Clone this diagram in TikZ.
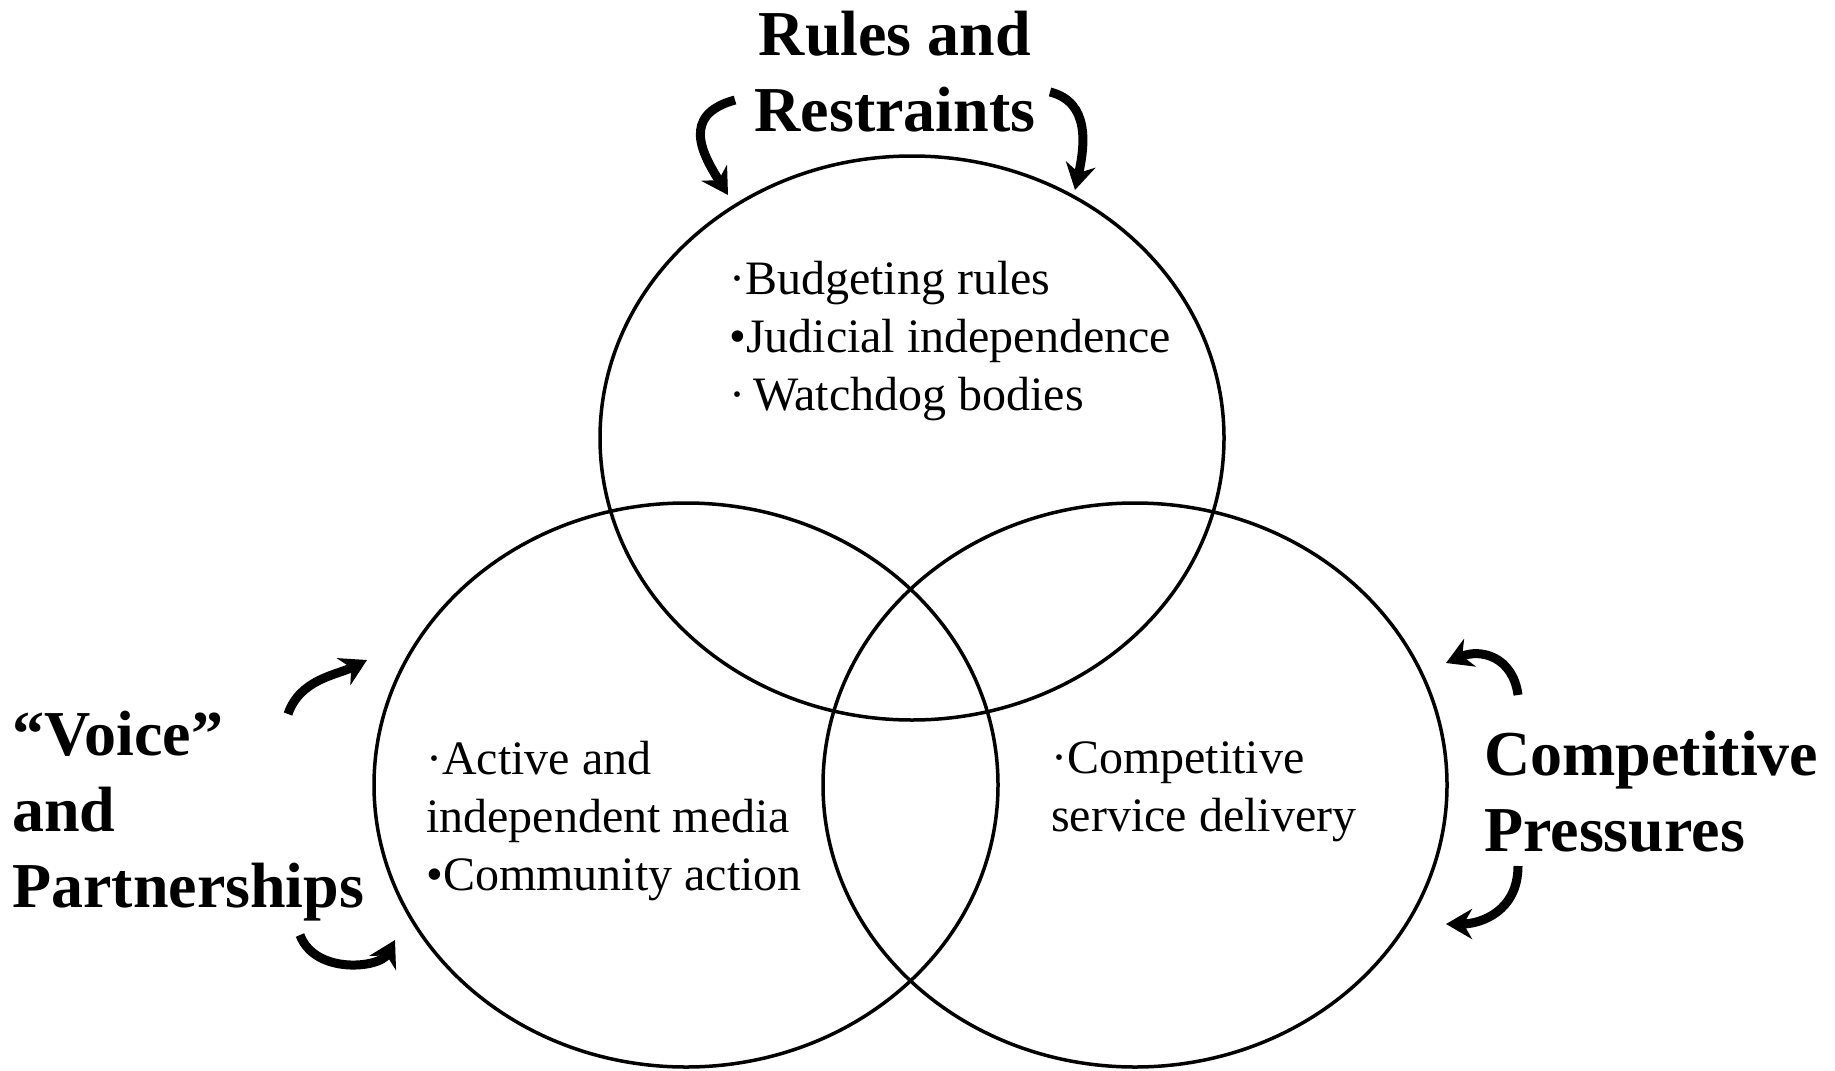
\documentclass[tikz,border=0pt]{standalone}
\usepackage{fontspec}
\setmainfont{Liberation Serif}
\usetikzlibrary{shapes.geometric,arrows.meta}

\tikzset{
  ring/.style={draw,ellipse,line width=3.5pt,minimum width=624pt,minimum height=564pt},
  bigtext/.style={font=\fontsize{64}{76}\selectfont\bfseries,align=left,inner sep=0pt},
  itemtext/.style={font=\fontsize{48}{58}\selectfont,align=left,inner sep=0pt},
  swoosh/.style={line width=9pt,-{Stealth[length=26pt,width=30pt]}}
}

\begin{document}
\begin{tikzpicture}[x=1pt,y=-1pt]
      \useasboundingbox (0,0) rectangle (1835,1070);

      \node[ring] (top) at (912,438) {};
      \node[ring] (left) at (686,785) {};
      \node[ring] (right) at (1135,785) {};

      \node[bigtext,align=center] (rules) at (895,72) {Rules and\\Restraints};
      \node[bigtext,anchor=west] (voice) at (12,816) {“Voice”\\and\\Partnerships};
      \node[bigtext,anchor=west] (comp) at (1484,792) {Competitive\\Pressures};

      \node[itemtext,anchor=west] (toplist) at (729,341) {·Budgeting rules\\•Judicial independence\\·\,Watchdog bodies};
      \node[itemtext,anchor=west] (leftlist) at (426,821) {·Active and\\independent media\\•Community action};
      \node[itemtext,anchor=west] (rightlist) at (1051,792) {·Competitive\\service delivery};

      \coordinate (a1) at (735,100);  \coordinate (b1) at (728,195);
      \coordinate (a2) at (1050,92);  \coordinate (b2) at (1075,190);
      \coordinate (a3) at (288,714);  \coordinate (b3) at (367,660);
      \coordinate (a4) at (300,935);  \coordinate (b4) at (395,940);
      \coordinate (a5) at (1518,695); \coordinate (b5) at (1446,663);
      \coordinate (a6) at (1518,866); \coordinate (b6) at (1446,924);

      \draw[swoosh] (a1) .. controls +(-55,15) and +(-25,-40) .. (b1);
      \draw[swoosh] (a2) .. controls +(40,10) and +(10,-45) .. (b2);
      \draw[swoosh] (a3) .. controls +(12,-35) and +(-30,15) .. (b3);
      \draw[swoosh] (a4) .. controls +(15,40) and +(-15,28) .. (b4);
      \draw[swoosh] (a5) .. controls +(-5,-38) and +(35,-15) .. (b5);
      \draw[swoosh] (a6) .. controls +(0,45) and +(35,0) .. (b6);
    \end{tikzpicture}
\end{document}
